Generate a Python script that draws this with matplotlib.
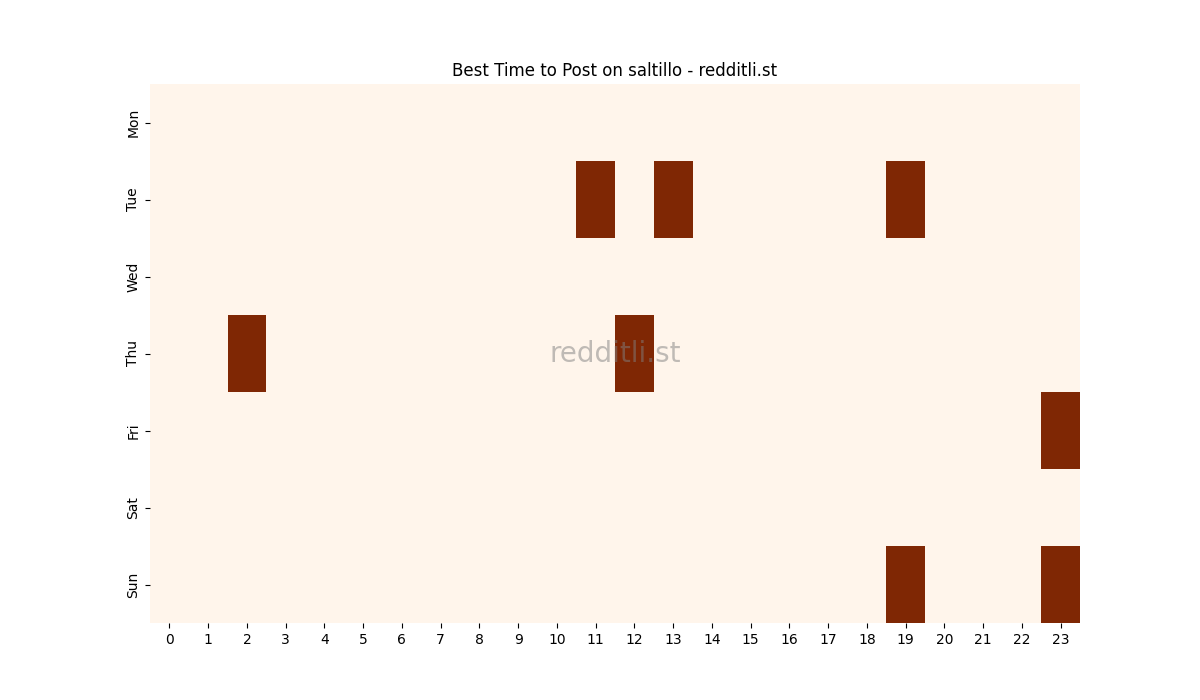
import numpy as np
import matplotlib
matplotlib.use("Agg")
import matplotlib.pyplot as plt
import seaborn as sns

days = ["Mon", "Tue", "Wed", "Thu", "Fri", "Sat", "Sun"]
hours = list(range(24))

# best hours per day (1 = good time to post)
best_hours = {
    "Tue": [11, 13, 19],
    "Thu": [2, 12],
    "Fri": [23],
    "Sun": [19, 23],
}

grid = np.zeros((len(days), len(hours)))
for day, hrs in best_hours.items():
    for h in hrs:
        grid[days.index(day), h] = 1

fig, ax = plt.subplots(figsize=(12, 7), dpi=100)
sns.heatmap(grid, cmap="Oranges", cbar=False, ax=ax,
            xticklabels=hours, yticklabels=days)
ax.set_yticklabels(days, rotation=90, va="center")
ax.set_xticklabels(hours, rotation=0)
ax.set_title("Best Time to Post on saltillo - redditli.st")

ax.text(0.5, 0.5, "redditli.st", transform=ax.transAxes,
        ha="center", va="center", fontsize=20, color="gray", alpha=0.5)

plt.savefig("out.png")
